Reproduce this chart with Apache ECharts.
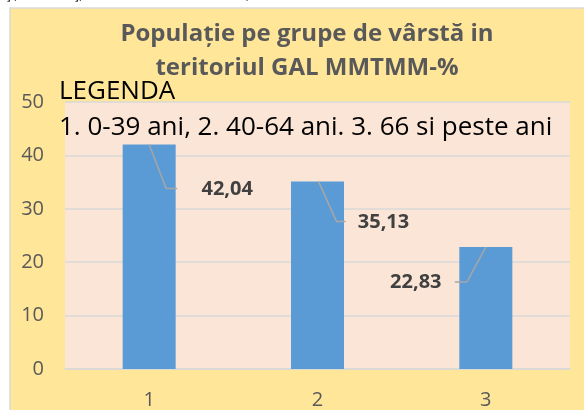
<!DOCTYPE html>
<html><head><meta charset="utf-8">
<script src="https://cdn.jsdelivr.net/npm/echarts@6/dist/echarts.min.js"></script>
<style>html,body{margin:0;padding:0;background:#fff}#c{width:584px;height:410px}</style>
</head><body><div id="c"></div>
<script>
const categories = ['1', '2', '3'];
const values = [42.04, 35.13, 22.83];
const valueLabels = ['42,04', '35,13', '22,83'];
const titleText = 'Populație pe grupe de vârstă in\nteritoriul GAL MMTMM-%';
const legendTitle = 'LEGENDA';
const legendText = '1. 0-39 ani, 2. 40-64 ani. 3. 66 si peste ani';
const yTicks = [0, 10, 20, 30, 40, 50];

// leader line / label offsets (pixels, relative to bar top center) - styling only
const leaderOffsets = [
  [[0, 0], [17, 44], [28, 44]],
  [[1, 0], [19, 40], [28, 40]],
  [[0, 0], [-19, 35], [-31, 35]]
];
const labelOffsets = [[78, 45], [66, 41], [-70, 35]];

const chart = echarts.init(document.getElementById('c'), null, {renderer: 'canvas'});
chart.setOption({
  animation: false,
  backgroundColor: '#ffffff',
  graphic: [
    {type: 'rect', z: -10, shape: {x: 10, y: 8, width: 600, height: 420},
     style: {fill: '#FFE699', stroke: '#D9D9D9', lineWidth: 1.5}},
    {type: 'text', z: 10, left: 4, top: -13,
     style: {text: 'Ţ, ai  coo  ţ,     ouo  ee  o   a  a  o     ,', fill: '#222', font: '15px "Liberation Sans"'}},
    {type: 'text', z: 20, left: 59, top: 79,
     style: {text: legendTitle, fill: '#000', font: '26px "Open Sans"'}},
    {type: 'text', z: 20, left: 59, top: 115,
     style: {text: legendText, fill: '#000', font: '26px "Open Sans"'}}
  ],
  title: {
    text: titleText,
    left: 302, top: 12, textAlign: 'center',
    textStyle: {fontFamily: 'Open Sans', fontWeight: 'bold', fontSize: 24, color: '#595959', lineHeight: 34}
  },
  grid: {left: 65, right: 14, top: 102, bottom: 41, show: true, backgroundColor: '#FBE5D6', borderWidth: 0},
  xAxis: {
    type: 'category', data: categories,
    axisLine: {lineStyle: {color: '#D9D9D9', width: 1.5}},
    axisTick: {show: false},
    axisLabel: {color: '#595959', fontSize: 20, fontFamily: 'Open Sans', margin: 21}
  },
  yAxis: {
    type: 'value', min: 0, max: 50, interval: 10,
    axisLine: {show: false}, axisTick: {show: false},
    splitLine: {lineStyle: {color: '#D9D9D9', width: 1.5}},
    axisLabel: {color: '#595959', fontSize: 20, fontFamily: 'Open Sans', margin: 21,
      formatter: v => yTicks.includes(v) ? String(v) : ''}
  },
  series: [
    {type: 'bar', data: values, barWidth: 53, itemStyle: {color: '#5B9BD5'}, z: 2},
    {type: 'custom', z: 5, data: values.map((v, i) => [i, v]),
     renderItem: function (params, api) {
       const i = params.dataIndex;
       const p = api.coord([api.value(0), api.value(1)]);
       const pts = leaderOffsets[i].map(o => [p[0] + o[0], p[1] + o[1]]);
       return {type: 'group', children: [
         {type: 'polyline', shape: {points: pts}, style: {stroke: '#A6A6A6', lineWidth: 1.5, fill: null}},
         {type: 'text', x: p[0] + labelOffsets[i][0], y: p[1] + labelOffsets[i][1],
          style: {text: valueLabels[i], fill: '#404040', font: 'bold 20px "Open Sans"', textAlign: 'center', textVerticalAlign: 'middle'}}
       ]};
     }}
  ]
});
</script></body></html>
